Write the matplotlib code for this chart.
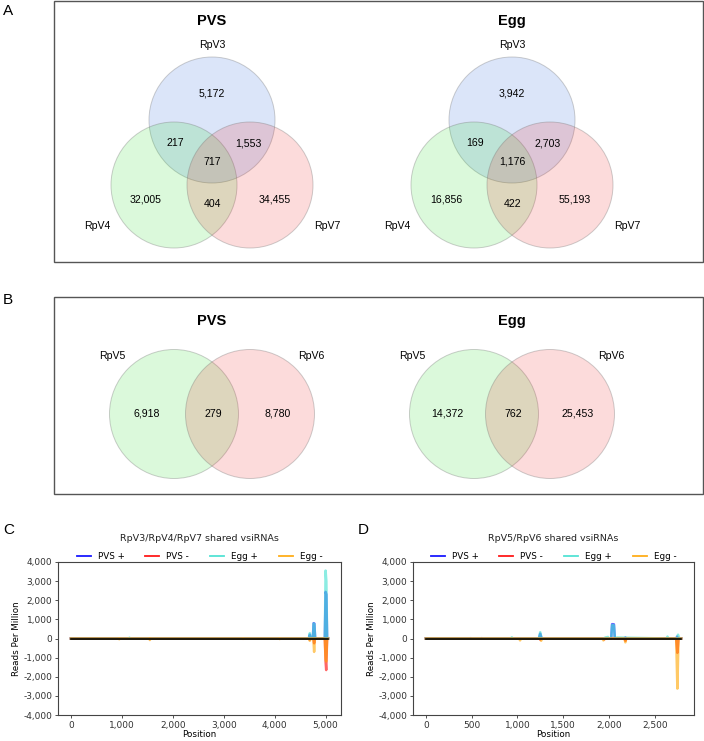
import matplotlib
matplotlib.use("Agg")
import matplotlib.pyplot as plt
from matplotlib.patches import Circle, Rectangle
from matplotlib.ticker import FuncFormatter, MultipleLocator

# ---- Venn counts ----
# 3-way order: RpV3 only, RpV4 only, RpV7 only, 3&4, 3&7, 4&7, all
SETS3 = ["RpV3", "RpV4", "RpV7"]
PVS3_COUNTS = [5172, 32005, 34455, 217, 1553, 404, 717]
EGG3_COUNTS = [3942, 16856, 55193, 169, 2703, 422, 1176]
# 2-way order: RpV5 only, shared, RpV6 only
SETS2 = ["RpV5", "RpV6"]
PVS2_COUNTS = [6918, 279, 8780]
EGG2_COUNTS = [14372, 762, 25453]

# ---- coverage of shared vsiRNAs (position, reads per million) ----
C_LEN = 5050
C_PVS_PLUS_X = [0, 1150, 1160, 1170, 4670, 4690, 4710, 4750, 4765, 4780, 4795, 4985, 5000, 5015, 5030, C_LEN]
C_PVS_PLUS_Y = [0, 0, 15, 0, 0, 200, 0, 0, 800, 780, 0, 0, 2440, 2300, 0, 0]
C_PVS_MINUS_X = [0, 1540, 1550, 1560, 4670, 4690, 4710, 4760, 4775, 4790, 4985, 5000, 5012, 5030, C_LEN]
C_PVS_MINUS_Y = [0, 0, -30, 0, 0, -60, 0, 0, -250, 0, 0, -1200, -1650, 0, 0]
C_EGG_PLUS_X = [0, 1140, 1150, 1160, 4670, 4690, 4710, 4750, 4765, 4780, 4795, 4985, 5000, 5015, 5030, C_LEN]
C_EGG_PLUS_Y = [0, 0, 40, 0, 0, 280, 0, 0, 780, 760, 0, 0, 3550, 3000, 0, 0]
C_EGG_MINUS_X = [0, 940, 950, 960, 1540, 1550, 1560, 3370, 3380, 3390, 4090, 4100, 4110,
                 4670, 4690, 4710, 4760, 4775, 4790, 4985, 5000, 5012, 5030, C_LEN]
C_EGG_MINUS_Y = [0, 0, -40, 0, 0, -80, 0, 0, -20, 0, 0, -30, 0,
                 0, -120, 0, 0, -700, 0, 0, -1100, -1200, 0, 0]

D_LEN = 2790
D_PVS_PLUS_X = [0, 480, 490, 500, 600, 610, 620, 1235, 1250, 1265, 2025, 2035, 2055, 2065, 2170, 2180, 2190, 2735, 2745, 2755, D_LEN]
D_PVS_PLUS_Y = [0, 0, 20, 0, 0, 20, 0, 0, 250, 0, 0, 750, 740, 0, 0, 50, 0, 0, 100, 0, 0]
D_PVS_MINUS_X = [0, 1240, 1250, 1260, 1940, 1950, 1960, 2170, 2180, 2190, 2735, 2748, 2760, D_LEN]
D_PVS_MINUS_Y = [0, 0, -60, 0, 0, -50, 0, 0, -120, 0, 0, -750, 0, 0]
D_EGG_PLUS_X = [0, 930, 940, 950, 1235, 1250, 1265, 1950, 1960, 1990, 2000, 2025, 2035, 2055, 2065,
                2075, 2085, 2630, 2640, 2650, 2740, 2755, 2770, D_LEN]
D_EGG_PLUS_Y = [0, 0, 60, 0, 0, 330, 0, 0, 50, 80, 0, 0, 700, 690, 0,
                0, 50, 0, 100, 0, 0, 200, 0, 0]
D_EGG_MINUS_X = [0, 1020, 1030, 1040, 1250, 1260, 1270, 1930, 1940, 1950, 2170, 2180, 2190, 2735, 2748, 2760, D_LEN]
D_EGG_MINUS_Y = [0, 0, -100, 0, 0, -120, 0, 0, -100, 0, 0, -200, 0, 0, -2620, 0, 0]

W, H = 704, 741
fig = plt.figure(figsize=(W / 100, H / 100), dpi=100)

# pixel-space overlay for the Venn panels
bg = fig.add_axes([0, 0, 1, 1])
bg.set_xlim(0, W)
bg.set_ylim(H, 0)
bg.axis("off")

VFONT = ["Liberation Sans", "DejaVu Sans"]
FILL = {"b": "#1255dd", "g": "#12dd12", "r": "#ee1212"}
EDGE = (0.45, 0.45, 0.45, 0.35)


def circle(cx, cy, r, key):
    bg.add_patch(Circle((cx, cy), r, facecolor=FILL[key], alpha=0.15, edgecolor="none"))
    bg.add_patch(Circle((cx, cy), r, facecolor="none", edgecolor=EDGE, lw=0.7))


def txt(x, y, s, size=7.6, weight="normal"):
    bg.text(x, y, s, ha="center", va="center", fontsize=size, fontweight=weight, family=VFONT)


def venn3(cx, cy, title, counts):
    r = 63
    circle(cx, cy - 43, r, "b")
    circle(cx - 38, cy + 22, r, "g")
    circle(cx + 38, cy + 22, r, "r")
    txt(cx, cy - 142, title, size=10.5, weight="bold")
    txt(cx, cy - 118, SETS3[0])
    txt(cx - 115, cy + 63, SETS3[1])
    txt(cx + 115, cy + 63, SETS3[2])
    offs = [(0, -69), (-66, 37), (63, 37), (-37, -20), (36, -20), (1, 41), (0, -1)]
    for (dx, dy), n in zip(offs, counts):
        txt(cx + dx, cy + dy, f"{n:,}")


def venn2(cx, cy, title, counts):
    r = 64.5
    circle(cx - 38, cy, r, "g")
    circle(cx + 38, cy, r, "r")
    txt(cx, cy - 93, title, size=10.5, weight="bold")
    txt(cx - 100, cy - 58, SETS2[0])
    txt(cx + 99, cy - 58, SETS2[1])
    for dx, n in zip([-65, 1, 66], counts):
        txt(cx + dx, cy, f"{n:,}")


bg.add_patch(Rectangle((54, 1), 649, 261, fill=False, edgecolor="#555555", lw=1))
bg.add_patch(Rectangle((54, 297), 649, 197, fill=False, edgecolor="#555555", lw=1))
venn3(212, 163, "PVS", PVS3_COUNTS)
venn3(512, 163, "Egg", EGG3_COUNTS)
venn2(212, 414, "PVS", PVS2_COUNTS)
venn2(512, 414, "Egg", EGG2_COUNTS)

for lab, x, y in [("A", 8, 11), ("B", 8, 300), ("C", 9, 530), ("D", 363, 530)]:
    bg.text(x, y, lab, ha="center", va="center", fontsize=11, family=VFONT)

# ---- coverage panels ----
COL = {"PVS +": "#0000ff", "PVS -": "#ff0000", "Egg +": "#40e0d0", "Egg -": "#ffa500"}
fmt = FuncFormatter(lambda v, p: f"{int(v):,}")


def coverage(rect, title, length, series, xstep):
    ax = fig.add_axes(rect)
    for name, xs, ys in series:
        ax.plot(xs, ys, color=COL[name], lw=1.8, alpha=0.6, label=name)
    ax.plot([0, length], [0, 0], color="black", lw=1.2)
    ax.set_ylim(-4000, 4000)
    ax.yaxis.set_major_locator(MultipleLocator(1000))
    ax.xaxis.set_major_locator(MultipleLocator(xstep))
    ax.xaxis.set_major_formatter(fmt)
    ax.yaxis.set_major_formatter(fmt)
    ax.tick_params(labelsize=6.5, length=2.5, width=0.6, pad=1.5, colors="#333333")
    for s in ax.spines.values():
        s.set_linewidth(0.8)
        s.set_color("#444444")
    ax.set_xlabel("Position", fontsize=6.3, labelpad=0.5)
    ax.set_ylabel("Reads Per Million", fontsize=6.3, labelpad=2)
    ax.set_title(title, fontsize=6.8, pad=15, color="#222222")
    leg = ax.legend(loc="lower center", bbox_to_anchor=(0.5, 0.985), ncol=4, frameon=False,
                    fontsize=6.3, handlelength=1.6, handletextpad=0.8, columnspacing=2.4,
                    borderaxespad=0.0)
    for h in leg.get_lines():
        h.set_alpha(0.9)
        h.set_linewidth(1.3)
    return ax


coverage([58 / W, 1 - 715 / H, 283 / W, 153 / H], "RpV3/RpV4/RpV7 shared vsiRNAs", C_LEN,
         [("PVS +", C_PVS_PLUS_X, C_PVS_PLUS_Y), ("PVS -", C_PVS_MINUS_X, C_PVS_MINUS_Y),
          ("Egg +", C_EGG_PLUS_X, C_EGG_PLUS_Y), ("Egg -", C_EGG_MINUS_X, C_EGG_MINUS_Y)], 1000)
coverage([413 / W, 1 - 715 / H, 281 / W, 153 / H], "RpV5/RpV6 shared vsiRNAs", D_LEN,
         [("PVS +", D_PVS_PLUS_X, D_PVS_PLUS_Y), ("PVS -", D_PVS_MINUS_X, D_PVS_MINUS_Y),
          ("Egg +", D_EGG_PLUS_X, D_EGG_PLUS_Y), ("Egg -", D_EGG_MINUS_X, D_EGG_MINUS_Y)], 500)

fig.savefig("out.png", dpi=100)
